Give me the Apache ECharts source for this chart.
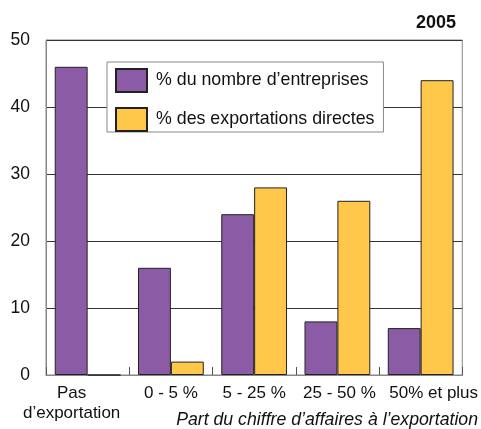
<!DOCTYPE html>
<html><head><meta charset="utf-8">
<script src="https://cdn.jsdelivr.net/npm/echarts@6/dist/echarts.min.js"></script>
<style>html,body{margin:0;padding:0;background:#fff}#c{width:481px;height:429px}</style>
</head><body><div id="c"></div>
<script>
const categories = ['Pas\nd\u2019exportation', '0 - 5 %', '5 - 25 %', '25 - 50 %', '50% et plus'];
const entreprises = [46, 16, 24, 8, 7];
const exportations = [0, 2, 28, 26, 44];
const seriesNames = ['% du nombre d\u2019entreprises', '% des exportations directes'];
const yTicks = [0, 10, 20, 30, 40, 50];
const F = '"Liberation Sans", Arial, sans-serif';
const labelPad = [[0, 32, 0, 0], [0, 0, 0, 0], [0, 0, 0, 0], [0, 0, 0, 4], [0, 0, 0, 26]];
const chart = echarts.init(document.getElementById('c'));
chart.setOption({
  animation: false,
  textStyle: {fontFamily: F},
  title: {text: '2005', right: 20, top: 9, textStyle: {fontFamily: F, fontSize: 18, fontWeight: 'bold', color: '#111'}},
  grid: {left: 46, right: 18, top: 40, bottom: 54, show: true, borderColor: '#888', borderWidth: 1},
  legend: {
    orient: 'vertical', left: 107, top: 62, padding: [6, 9, 0, 8], itemGap: 14,
    itemWidth: 31, itemHeight: 23, icon: 'rect', backgroundColor: '#fff', borderColor: '#888', borderWidth: 1,
    textStyle: {fontFamily: F, fontSize: 17.8, color: '#111', padding: [0, 0, 0, 4]},
    data: seriesNames
  },
  xAxis: {
    type: 'category',
    data: categories.map((c, i) => ({value: c, textStyle: {padding: labelPad[i]}})),
    axisLine: {lineStyle: {color: '#888'}},
    axisTick: {show: true, inside: true, length: 8, lineStyle: {color: '#555'}},
    axisLabel: {fontFamily: F, fontSize: 17, color: '#111', margin: 8, lineHeight: 20, interval: 0}
  },
  yAxis: {
    type: 'value', min: yTicks[0], max: yTicks[yTicks.length - 1], interval: 10,
    axisLine: {show: true, lineStyle: {color: '#888'}},
    axisTick: {show: false},
    splitLine: {lineStyle: {color: '#333', width: 1}},
    axisLabel: {fontFamily: F, fontSize: 17.5, color: '#111', margin: 16}
  },
  graphic: [{type: 'text', right: 3, top: 411, style: {text: 'Part du chiffre d\u2019affaires \u00e0 l\u2019exportation', font: 'italic 17.7px ' + F, fill: '#111'}}],
  series: [
    {name: seriesNames[0], type: 'bar', data: entreprises, barGap: '0%', barCategoryGap: '21%',
     itemStyle: {color: '#8B5CA5', borderColor: '#222', borderWidth: 1}},
    {name: seriesNames[1], type: 'bar', data: exportations, barGap: '0%', barCategoryGap: '21%',
     itemStyle: {color: '#FFC84A', borderColor: '#222', borderWidth: 1}}
  ]
});
</script></body></html>
